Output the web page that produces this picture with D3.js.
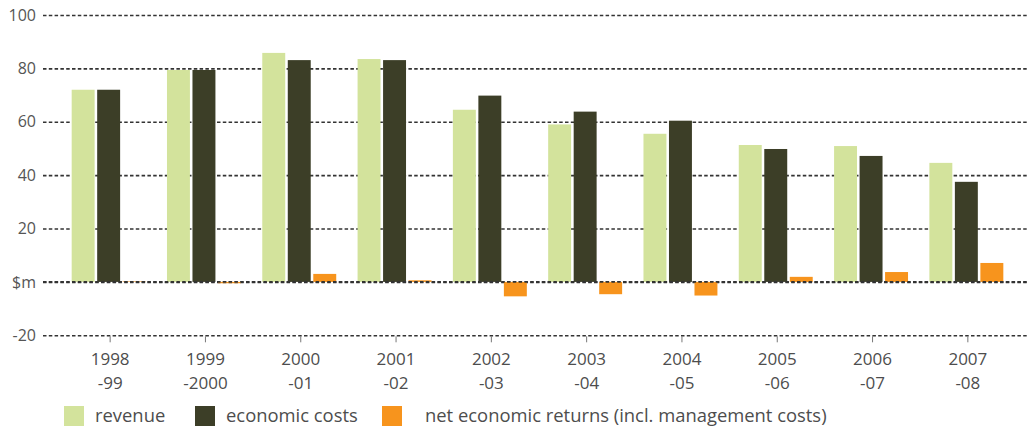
<!DOCTYPE html>
<html>
<head>
<meta charset="utf-8">
<script src="https://d3js.org/d3.v7.min.js"></script>
<style>
  html, body { margin: 0; padding: 0; background: #fff; }
  svg { display: block; font-family: "Open Sans", sans-serif; }
</style>
</head>
<body>
<div id="chart"></div>
<script>
// values ($m)
const yearTop = ["1998", "1999", "2000", "2001", "2002", "2003", "2004", "2005", "2006", "2007"];
const yearBottom = ["-99", "-2000", "-01", "-02", "-03", "-04", "-05", "-06", "-07", "-08"];
const revenue = [72, 79.4, 85.8, 83.5, 64.5, 59.0, 55.5, 51.3, 50.9, 44.6];
const economicCosts = [72, 79.4, 83.1, 83.1, 69.8, 63.8, 60.4, 49.8, 47.2, 37.5];
const netReturns = [0.2, -0.5, 3.0, 0.6, -5.4, -4.6, -5.1, 1.9, 3.7, 7.1];
const seriesNames = ["revenue", "economic costs", "net economic returns (incl. management costs)"];
const seriesColors = ["#d3e39c", "#3c3e27", "#f7941d"];
const yTicks = [-20, 0, 20, 40, 60, 80, 100];

const width = 1027;
const height = 429;
const gridLeft = 43;

const years = yearTop.map((d, i) => d + yearBottom[i]);
const seriesValues = [revenue, economicCosts, netReturns];

const svg = d3.select("#chart")
    .append("svg")
    .attr("width", width)
    .attr("height", height);

const y = d3.scaleLinear()
    .domain([-20, 100])
    .range([335.3, 15]);

const x0 = d3.scaleBand()
    .domain(years)
    .range([61, 1014])
    .paddingInner(0.224)
    .paddingOuter(0.112);

const x1 = d3.scaleBand()
    .domain(seriesNames)
    .range([0, x0.bandwidth()])
    .paddingInner(0.1);

// gridlines + y labels
const yAxis = svg.append("g")
    .attr("transform", `translate(${gridLeft},0)`)
    .call(d3.axisLeft(y)
        .tickValues(yTicks)
        .tickSize(-(width - gridLeft))
        .tickPadding(7)
        .tickFormat(d => d === 0 ? "$m" : d));

yAxis.select(".domain").remove();
yAxis.selectAll(".tick line")
    .attr("stroke", "#333")
    .attr("stroke-width", 1.6)
    .attr("stroke-dasharray", "3.5,2.3");
yAxis.selectAll(".tick text")
    .attr("fill", "#555")
    .attr("font-size", 16)
    .attr("font-family", "Open Sans, sans-serif");

// bars
const groups = svg.append("g")
    .selectAll("g")
    .data(years)
    .join("g")
    .attr("transform", d => `translate(${x0(d)},0)`);

groups.selectAll("rect")
    .data((d, i) => seriesNames.map((s, j) => ({series: s, value: seriesValues[j][i], color: seriesColors[j]})))
    .join("rect")
    .attr("x", d => x1(d.series))
    .attr("width", x1.bandwidth())
    .attr("y", d => y(Math.max(0, d.value)))
    .attr("height", d => Math.abs(y(d.value) - y(0)))
    .attr("fill", d => d.color);

// zero line drawn over the bar bases
svg.append("line")
    .attr("x1", gridLeft)
    .attr("x2", width)
    .attr("y1", y(0))
    .attr("y2", y(0))
    .attr("stroke", "#333")
    .attr("stroke-width", 1.6)
    .attr("stroke-dasharray", "3.5,2.3");

// category ticks and two-line labels
const cx = d => x0(d) + x0.bandwidth() / 2 + 1.5;

const xTicks = svg.append("g")
    .selectAll("g")
    .data(years)
    .join("g")
    .attr("transform", d => `translate(${cx(d)},0)`);

xTicks.append("line")
    .attr("y1", y(-20) + 1)
    .attr("y2", y(-20) + 7)
    .attr("stroke", "#777")
    .attr("stroke-width", 1);

const label = xTicks.append("text")
    .attr("text-anchor", "middle")
    .attr("font-size", 17)
    .attr("fill", "#4d4d4d");

label.append("tspan")
    .attr("x", 0)
    .attr("y", 365.3)
    .text((d, i) => yearTop[i]);

label.append("tspan")
    .attr("x", 0)
    .attr("y", 388.5)
    .text((d, i) => yearBottom[i]);

// legend
const legendX = [64, 195, 382];
const legend = svg.append("g")
    .selectAll("g")
    .data(seriesNames)
    .join("g")
    .attr("transform", (d, i) => `translate(${legendX[i]},406)`);

legend.append("rect")
    .attr("width", 20)
    .attr("height", 20)
    .attr("fill", (d, i) => seriesColors[i]);

legend.append("text")
    .attr("x", (d, i) => i === 2 ? 43 : 31)
    .attr("y", 15.5)
    .attr("font-size", 18.4)
    .attr("fill", "#4d4d4d")
    .text(d => d);
</script>
</body>
</html>
